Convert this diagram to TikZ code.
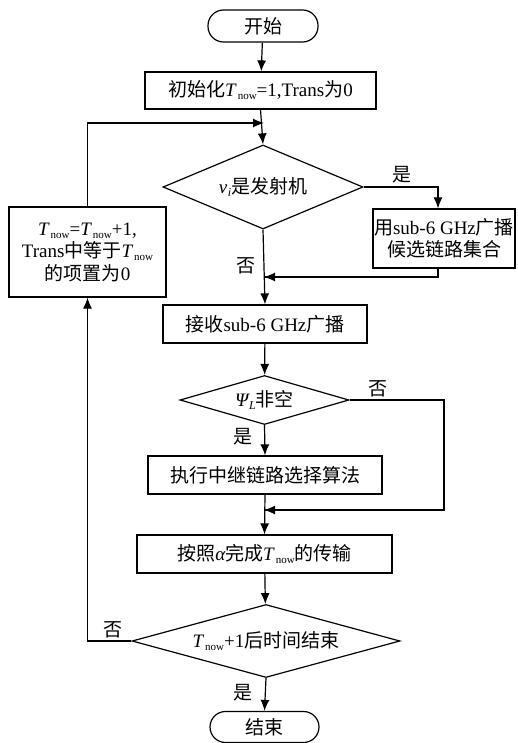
\documentclass[tikz,border=0pt]{standalone}
\usepackage{fontspec}
\setmainfont{Liberation Serif}
\newfontfamily\cjk{Noto Sans CJK SC}
\usetikzlibrary{shapes.geometric,arrows.meta}
\newcommand{\Tnow}{{\itshape T}\kern2pt\raisebox{-0.35ex}{\fontsize{11}{11}\selectfont now}}
\begin{document}
\begin{tikzpicture}[x=1pt,y=-1pt,
  every node/.style={font=\fontsize{19}{22.5}\selectfont},
  base/.style={draw,line width=1.2pt,inner sep=0pt,align=center},
  term/.style={base,rounded corners=15.5pt},
  proc/.style={base},
  dec/.style={base,diamond},
  conn/.style={line width=1.2pt,-{Latex[length=11pt,width=9pt]}},
  plain/.style={line width=1.2pt},
  lab/.style={inner sep=0pt}]
\useasboundingbox (0,0) rectangle (517,743);

\node[term,minimum width=110,minimum height=32] (start) at (263,26) {{\cjk 开始}};
\node[proc,minimum width=231,minimum height=37] (init) at (260.5,90.5) {{\cjk 初始化}\Tnow=1,Trans{\cjk 为}0};
\coordinate (m1) at (264,123);
\node[dec,minimum width=200,minimum height=84,aspect=2.38] (d1) at (263,187) {{\itshape v\kern0.5pt\raisebox{-0.4ex}{\fontsize{12}{12}\selectfont i}}{\cjk 是发射机}};
\node[proc,minimum width=142,minimum height=59] (r) at (444,238.5) {{\cjk 用}sub-6 GHz{\cjk 广播}\\{\cjk 候选链路集合}};
\coordinate (m3) at (264,277);
\node[proc,minimum width=157,minimum height=90] (l) at (87.5,252) {\Tnow=\Tnow+1,\\Trans{\cjk 中等于}\Tnow\\{\cjk 的项置为}0};
\node[proc,minimum width=204,minimum height=38] (recv) at (265,324) {{\cjk 接收}sub-6 GHz{\cjk 广播}};
\node[dec,minimum width=169,minimum height=49,aspect=3.45] (d2) at (264.5,400) {{\itshape Ψ\kern0.5pt\raisebox{-0.4ex}{\fontsize{12}{12}\selectfont L}}{\cjk 非空}};
\node[proc,minimum width=234,minimum height=38] (algo) at (265,475) {{\cjk 执行中继链路选择算法}};
\coordinate (m2) at (264,510);
\node[proc,minimum width=255,minimum height=38] (trans) at (264.5,554) {{\cjk 按照}{\itshape α}{\cjk 完成}\Tnow{\cjk 的传输}};
\node[dec,minimum width=268,minimum height=73,aspect=3.67] (d3) at (266,641) {\Tnow+1{\cjk 后时间结束}};
\node[term,minimum width=109,minimum height=31] (end) at (264.5,727) {{\cjk 结束}};

\draw[conn] (start) -- (init);
\draw[conn] (init.south) -- (d1.north);
\draw[conn] (l.north) |- (m1);
\draw[conn] (d1.east) -| ([xshift=-6pt]r.north);
\draw[plain] ([xshift=-6pt]r.south) |- (m3);
\draw[conn] ([xshift=-6pt]r.south |- m3) -- (m3);
\draw[conn] (d1.south) -- (recv.north);
\draw[conn] (recv) -- (d2);
\draw[conn] (d2.south) -- (algo.north);
\draw[plain] (d2.east) -- (444,400) |- (m2);
\draw[conn] (444,510) -- (m2);
\draw[conn] (algo.south) -- (trans.north);
\draw[conn] (trans) -- (d3);
\draw[conn] (d3.west) -| (l.south);
\draw[conn] (d3.south) -- (end.north);

\node[lab] at (402,175) {{\cjk 是}};
\node[lab] at (246,266) {{\cjk 否}};
\node[lab] at (378,389) {{\cjk 否}};
\node[lab] at (243,437) {{\cjk 是}};
\node[lab] at (113,630) {{\cjk 否}};
\node[lab] at (243,693) {{\cjk 是}};
\end{tikzpicture}
\end{document}
